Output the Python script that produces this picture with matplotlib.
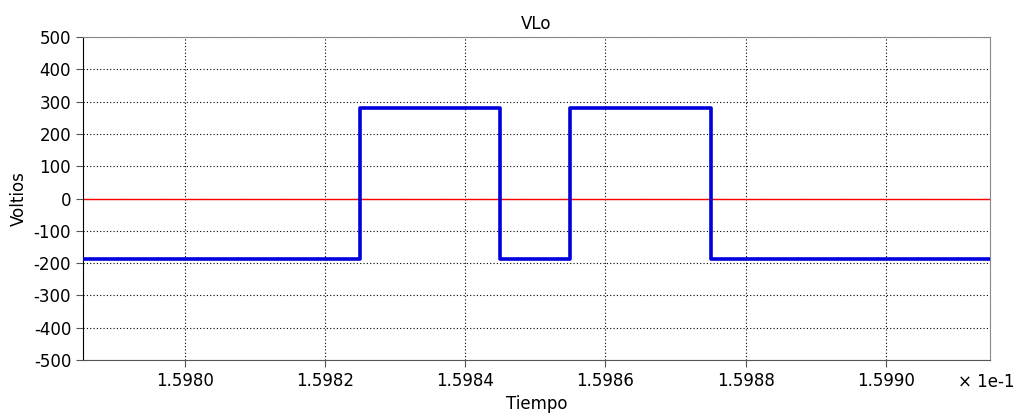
import matplotlib.pyplot as plt
import numpy as np

plt.rcParams['axes.unicode_minus'] = False

# time in units of 1e-1 s, voltage in V
t_edges = [1.597854, 1.59825, 1.59845, 1.59855, 1.59875, 1.599149]
v_levels = [-186, 280, -186, 280, -186, -186]
x_ticks = [1.5980, 1.5982, 1.5984, 1.5986, 1.5988, 1.5990]
y_ticks = list(range(-500, 501, 100))

fig = plt.figure(figsize=(10.18, 4.16), dpi=100)
ax = fig.add_axes([83/1018, 1 - 360/416, (990 - 83)/1018, (360 - 37)/416])

ax.axhline(0, color='red', lw=1, zorder=2)
ax.step(t_edges, v_levels, where='post', color='#0000dd', lw=2.6, zorder=3)

ax.set_xlim(t_edges[0], t_edges[-1])
ax.set_ylim(-500, 500)
ax.set_xticks(x_ticks)
ax.set_xticklabels([f"{v:.4f}" for v in x_ticks])
ax.set_yticks(y_ticks)
ax.grid(True, linestyle=(0, (1, 2)), color='black', lw=0.8)
ax.tick_params(direction='out', length=5, labelsize=12, color='#555555')

for s in ['top', 'right']:
    ax.spines[s].set_color('#888888')
ax.spines['bottom'].set_color('#555555')
ax.spines['left'].set_color('black')

ax.set_title("VLo", fontsize=12, pad=6)
ax.set_xlabel("Tiempo", fontsize=12, labelpad=4)
ax.set_ylabel("Voltios", fontsize=12, labelpad=4)
fig.text(958/1018, 1 - 382/416, "\u00d7 1e-1", fontsize=12, va='center', ha='left')

fig.savefig("out.png", dpi=100)
